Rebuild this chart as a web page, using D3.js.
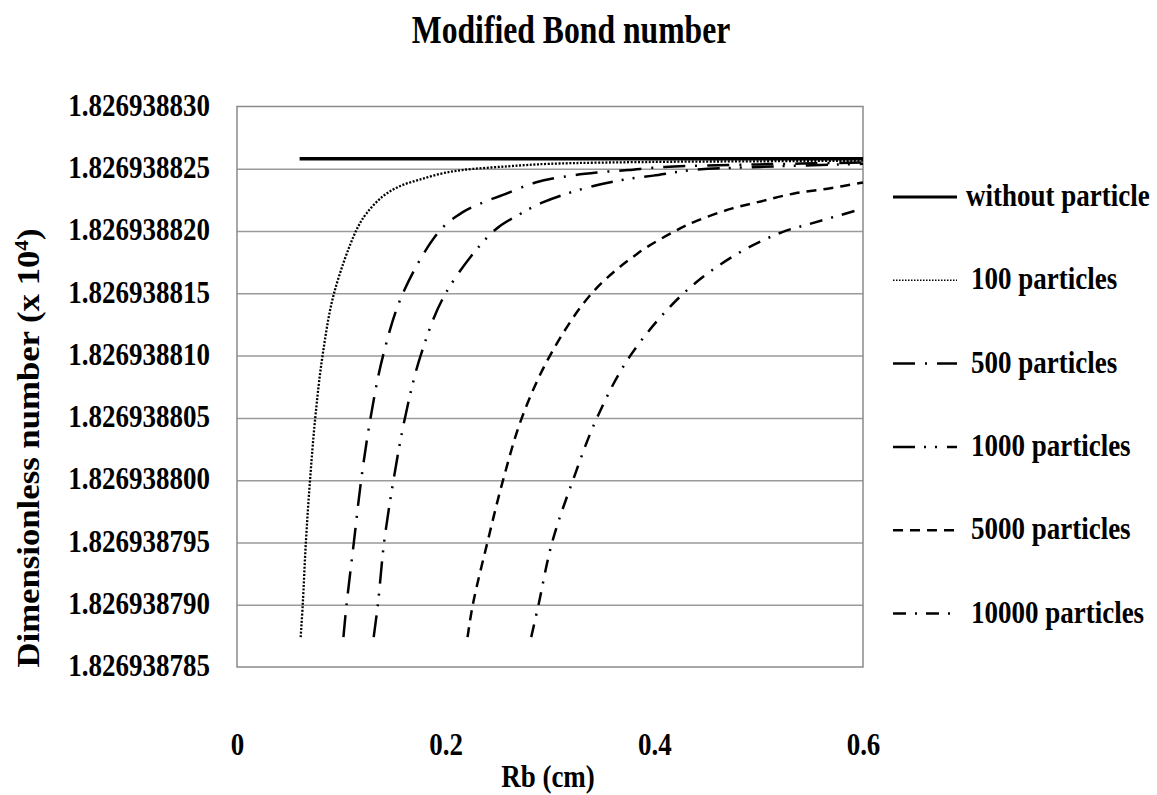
<!DOCTYPE html>
<html>
<head>
<meta charset="utf-8">
<script src="https://cdn.jsdelivr.net/npm/d3@7"></script>
<style>
  body { margin: 0; background: #fff; }
  text { font-family: "Liberation Serif", "Times New Roman", serif; font-weight: bold; fill: #000; }
</style>
</head>
<body>
<svg id="chart" width="1157" height="795"></svg>
<script>
const width = 1157;
const height = 795;

// axis ticks
const xTicks = [0, 0.2, 0.4, 0.6];
const yTicks = [1.826938785, 1.826938790, 1.826938795, 1.826938800, 1.826938805,
                1.826938810, 1.826938815, 1.826938820, 1.826938825, 1.826938830];

// series (Rb in cm, dimensionless number x 10^4)
const seriesNames = ["without particle", "100 particles", "500 particles",
                     "1000 particles", "5000 particles", "10000 particles"];

const xNone = [0.06, 0.2, 0.4, 0.6];
const yNone = [1.8269388258, 1.8269388258, 1.8269388258, 1.8269388258];

const x100 = [0.061, 0.063, 0.066, 0.070, 0.075, 0.082, 0.093, 0.114, 0.124, 0.140, 0.156, 0.174, 0.195, 0.216, 0.26, 0.3, 0.4, 0.5, 0.6];
const y100 = [1.8269387874, 1.8269387900, 1.8269387950, 1.8269388000, 1.8269388050, 1.8269388100,
              1.8269388150, 1.8269388200, 1.8269388214, 1.8269388228, 1.8269388236, 1.8269388241,
              1.8269388246, 1.8269388249, 1.8269388252, 1.8269388254, 1.82693882555, 1.8269388256, 1.82693882565];

const x500 = [0.102, 0.105, 0.112, 0.119, 0.128, 0.140, 0.159, 0.194, 0.216, 0.233, 0.255, 0.286, 0.316, 0.345, 0.375, 0.41, 0.5, 0.6];
const y500 = [1.8269387874, 1.8269387900, 1.8269387950, 1.8269388000, 1.8269388050, 1.8269388100,
              1.8269388150, 1.8269388200, 1.8269388215, 1.8269388222, 1.8269388229, 1.8269388239,
              1.8269388244, 1.8269388247, 1.8269388249, 1.82693882515, 1.82693882535, 1.8269388255];

const x1000 = [0.131, 0.135, 0.141, 0.150, 0.161, 0.176, 0.200, 0.246, 0.270, 0.293, 0.336, 0.369, 0.399, 0.437, 0.501, 0.6];
const y1000 = [1.8269387874, 1.8269387900, 1.8269387950, 1.8269388000, 1.8269388050, 1.8269388100,
               1.8269388150, 1.8269388200, 1.8269388213, 1.8269388223, 1.8269388235, 1.8269388241,
               1.82693882445, 1.8269388249, 1.82693882515, 1.8269388254];

const x5000 = [0.221, 0.226, 0.240, 0.255, 0.273, 0.300, 0.340, 0.384, 0.420, 0.440, 0.474, 0.503, 0.533, 0.566, 0.6];
const y5000 = [1.8269387874, 1.8269387900, 1.8269387950, 1.8269388000, 1.8269388050, 1.8269388100,
               1.8269388150, 1.8269388182, 1.8269388200, 1.8269388208, 1.8269388218, 1.8269388224,
               1.8269388230, 1.8269388234, 1.8269388239];

const x10000 = [0.282, 0.289, 0.302, 0.322, 0.345, 0.377, 0.428, 0.478, 0.522, 0.550, 0.6];
const y10000 = [1.8269387874, 1.8269387900, 1.8269387950, 1.8269388000, 1.8269388050, 1.8269388100,
                1.8269388150, 1.8269388181, 1.8269388199, 1.8269388206, 1.8269388218];

const seriesX = [xNone, x100, x500, x1000, x5000, x10000];
const seriesY = [yNone, y100, y500, y1000, y5000, y10000];

// line looks for each series
const dashes = [null, "2,1.6", "22,10,2,10", "22,9,2,9,2,10", "10,7", "13,9,2,9"];
const strokeW = [3.5, 2.3, 2.5, 2.5, 2.5, 2.5];

const plot = {left: 237, right: 863, top: 106.5, bottom: 667};
const stretch = 1.15; // the reference text is drawn tall and narrow

const svg = d3.select("#chart");

const x = d3.scaleLinear().domain([0, 0.6]).range([plot.left, plot.right]);
const y = d3.scaleLinear().domain([1.826938785, 1.826938830]).range([plot.bottom, plot.top]);

// horizontal gridlines
svg.append("g")
    .attr("transform", `translate(${plot.left},0)`)
    .call(d3.axisLeft(y).tickValues(yTicks.slice(1, -1)).tickSize(-(plot.right - plot.left)).tickFormat(""))
    .call(g => g.select(".domain").remove())
    .call(g => g.selectAll("line").attr("stroke", "#9a9a9a").attr("stroke-width", 1.5));

// plot frame
svg.append("rect")
    .attr("x", plot.left).attr("y", plot.top)
    .attr("width", plot.right - plot.left).attr("height", plot.bottom - plot.top)
    .attr("fill", "none").attr("stroke", "#8a8a8a").attr("stroke-width", 1.5);

// y tick labels
svg.append("g")
    .attr("transform", `translate(${plot.left},0)`)
    .call(d3.axisLeft(y).tickValues(yTicks).tickSize(0).tickPadding(27).tickFormat(d3.format(".9f")))
    .call(g => g.select(".domain").remove())
    .call(g => g.selectAll("text")
        .attr("font-family", "Liberation Serif")
        .attr("font-weight", "bold")
        .attr("font-size", 27)
        .attr("dy", "0.28em")
        .attr("transform", `scale(1,${stretch})`)
        .attr("fill", "#000"));

// x tick labels
svg.append("g")
    .attr("transform", `translate(0,${plot.bottom})`)
    .call(d3.axisBottom(x).tickValues(xTicks).tickSize(0).tickPadding(57).tickFormat(d => d === 0 ? "0" : d3.format(".1f")(d)))
    .call(g => g.select(".domain").remove())
    .call(g => g.selectAll("text")
        .attr("font-family", "Liberation Serif")
        .attr("font-weight", "bold")
        .attr("font-size", 27)
        .attr("transform", `scale(1,${stretch})`)
        .attr("fill", "#000"));

// curves
const line = d3.line()
    .x(d => x(d[0]))
    .y(d => y(d[1]))
    .curve(d3.curveCatmullRom.alpha(0.5));

seriesNames.forEach((name, i) => {
    const pts = seriesX[i].map((v, j) => [v, seriesY[i][j]]);
    svg.append("path")
        .datum(pts)
        .attr("d", line)
        .attr("fill", "none")
        .attr("stroke", "#000")
        .attr("stroke-width", strokeW[i])
        .attr("stroke-dasharray", dashes[i]);
});

// title
svg.append("text")
    .attr("transform", "translate(571,43) scale(0.88,1.12)")
    .attr("text-anchor", "middle")
    .attr("font-size", 36)
    .text("Modified Bond number");

// x axis title
svg.append("text")
    .attr("transform", `translate(548,787) scale(1,${stretch})`)
    .attr("text-anchor", "middle")
    .attr("font-size", 27)
    .text("Rb (cm)");

// y axis title
const yt = svg.append("text")
    .attr("transform", "translate(39,448) rotate(-90) scale(1.12,1)")
    .attr("text-anchor", "middle")
    .attr("font-size", 31);
yt.append("tspan").text("Dimensionless number (x 10");
yt.append("tspan").attr("font-size", 19).attr("dy", -11).text("4");
yt.append("tspan").attr("dy", 11).text(")");

// legend
const legend = svg.append("g");
seriesNames.forEach((name, i) => {
    const ly = 197 + i * 83.3;
    legend.append("line")
        .attr("x1", 893).attr("x2", 957)
        .attr("y1", ly).attr("y2", ly)
        .attr("stroke", "#000")
        .attr("stroke-width", i === 0 ? 3 : (i === 1 ? 1.5 : 2.5))
        .attr("stroke-dasharray", i === 1 ? "1.5,1.5" : dashes[i]);
    legend.append("text")
        .attr("transform", `translate(${i === 0 ? 966 : 971},${ly + 9}) scale(1,${stretch})`)
        .attr("font-size", 27)
        .text(name);
});
</script>
</body>
</html>
